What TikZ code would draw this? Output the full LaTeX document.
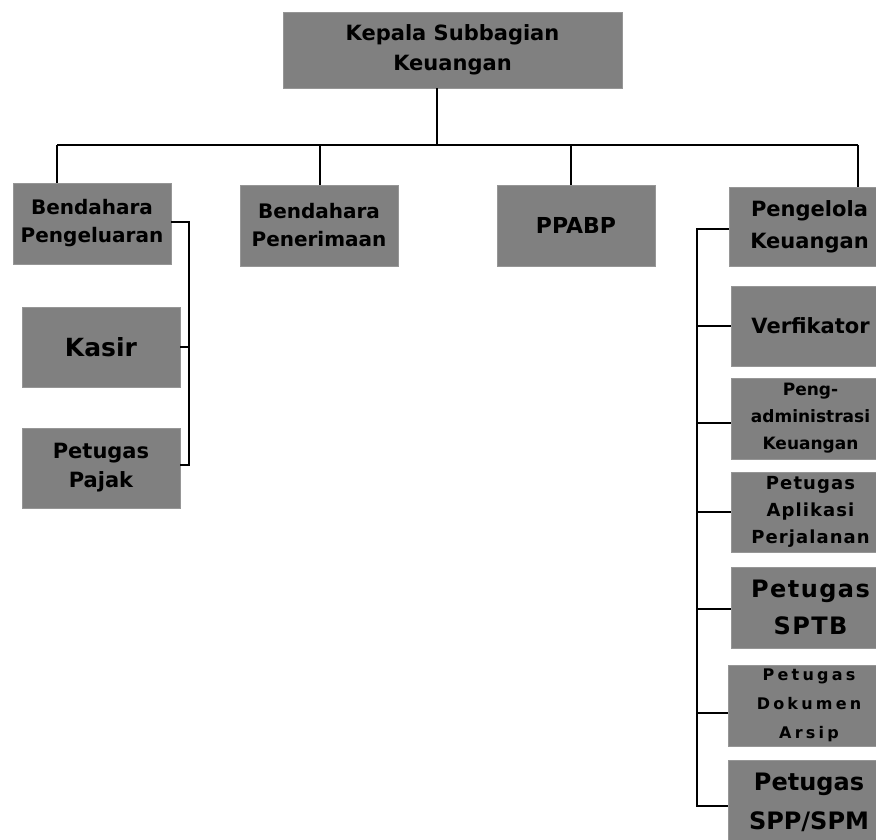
\documentclass[tikz,border=0pt]{standalone}
\usepackage{fontspec}
\setmainfont{DejaVu Sans}
\newfontfamily\spacedfont[LetterSpace=20]{DejaVu Sans}
\newfontfamily\slightfont[LetterSpace=6]{DejaVu Sans}
\definecolor{boxgray}{RGB}{128,128,128}
\definecolor{edgegray}{RGB}{150,150,150}
\tikzset{
  orgbox/.style={rectangle, fill=boxgray, draw=edgegray, line width=0.8pt, align=center,
    inner sep=0pt, text=black},
  link/.style={draw=black, line width=2pt},
}
\newcommand{\fs}[2]{\fontsize{#1}{#2}\selectfont\bfseries}
\begin{document}
\begin{tikzpicture}[x=1pt,y=-1pt]
\useasboundingbox (0,0) rectangle (876,840);
\fill[white] (0,0) rectangle (876,840);
\clip (0,0) rectangle (876,840);

% top
\node[orgbox, minimum width=339pt, minimum height=76pt, font=\fs{21}{30}] (top) at (452.5,50)
  {Kepala Subbagian\\Keuangan};

% level 1
\node[orgbox, minimum width=158pt, minimum height=81pt, font=\fs{20}{28}] (bp) at (92,223.5)
  {Bendahara\\Pengeluaran};
\node[orgbox, minimum width=158pt, minimum height=81pt, font=\fs{20}{28}] (bt) at (319,225.5)
  {Bendahara\\Penerimaan};
\node[orgbox, minimum width=158pt, minimum height=81pt, font=\fs{22}{28}] (pp) at (576,225.5)
  {PPABP};
\node[orgbox, minimum width=161pt, minimum height=79pt, font=\fs{21}{32}] (pk) at (809.5,226.5)
  {Pengelola\\Keuangan};

% left children
\node[orgbox, minimum width=158pt, minimum height=80pt, font=\fs{25}{30}] (ks) at (101,347)
  {Kasir};
\node[orgbox, minimum width=158pt, minimum height=80pt, font=\fs{21}{29}] (pj) at (101,468)
  {Petugas\\Pajak};

% right children
\node[orgbox, minimum width=159pt, minimum height=80pt, font=\fs{21}{30}] (vf) at (810.5,326)
  {Verfikator};
\node[orgbox, minimum width=159pt, minimum height=81pt, font=\fs{17}{27}] (pa) at (810.5,418.5)
  {Peng-\\administrasi\\Keuangan};
\node[orgbox, minimum width=159pt, minimum height=80pt, font=\fs{18}{27}\slightfont] (ap) at (810.5,512)
  {Petugas\\Aplikasi\\Perjalanan};
\node[orgbox, minimum width=159pt, minimum height=81pt, font=\fs{24}{37}\slightfont] (st) at (810.5,607.5)
  {Petugas\\SPTB};
\node[orgbox, minimum width=162pt, minimum height=81pt, font=\fs{16}{29}\spacedfont] (da) at (809,705.5)
  {Petugas\\Dokumen\\Arsip};
\node[orgbox, minimum width=162pt, minimum height=85pt, font=\fs{24}{39}] (sp) at (809,802.5)
  {Petugas\\SPP/SPM};

% connectors: top bus
\coordinate (j0) at (437,145);
\coordinate (d1) at (57,145);
\coordinate (d2) at (320,145);
\coordinate (d3) at (571,145);
\coordinate (d4) at (858,145);
\draw[link] (j0 |- top.south) -- (j0);
\draw[link] (d1) -- (d4);
\draw[link] (d1) -- (d1 |- bp.north);
\draw[link] (d2) -- (d2 |- bt.north);
\draw[link] (d3) -- (d3 |- pp.north);
\draw[link] (d4) -- (d4 |- pk.north);

% left bracket
\coordinate (lb) at (189,0);
\draw[link] ([yshift=2pt]bp.east) -- ([yshift=2pt]bp.east -| lb) -- ([yshift=3pt]pj.east -| lb) -- ([yshift=3pt]pj.east);
\draw[link] (ks.east) -- (ks.east -| lb);

% right bracket
\coordinate (rb) at (697,0);
\draw[link] ([yshift=-2.5pt]pk.west) -- ([yshift=-2.5pt]pk.west -| rb) -- ([yshift=-3.5pt]sp.west -| rb) -- ([yshift=-3.5pt]sp.west);
\draw[link] (vf.west) -- (vf.west -| rb);
\draw[link] ([yshift=-4.5pt]pa.west) -- ([yshift=-4.5pt]pa.west -| rb);
\draw[link] (ap.west) -- (ap.west -| rb);
\draw[link] ([yshift=-1.5pt]st.west) -- ([yshift=-1.5pt]st.west -| rb);
\draw[link] ([yshift=-7.5pt]da.west) -- ([yshift=-7.5pt]da.west -| rb);
\end{tikzpicture}
\end{document}
